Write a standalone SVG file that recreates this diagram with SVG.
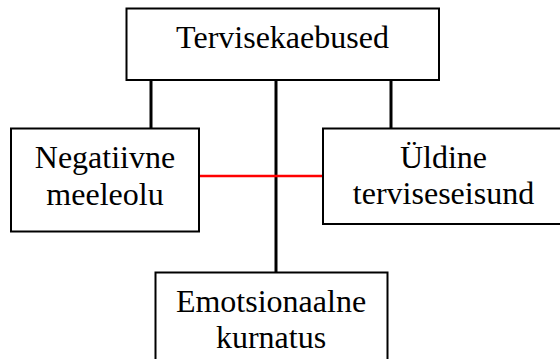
<svg xmlns="http://www.w3.org/2000/svg" width="560" height="359" viewBox="0 0 560 359">
<style>
.box{fill:#fff;stroke:#000;stroke-width:2}
.t{font-family:"Liberation Serif","Times New Roman",serif;font-size:32px;fill:#000;text-anchor:middle}
.c{stroke:#000;stroke-width:3;fill:none}
.r{stroke:#f00;stroke-width:2.5;fill:none}
</style>
<rect width="560" height="359" fill="#fff"/>
<g id="connectors">
<line class="c" x1="151" y1="80" x2="151" y2="128"/>
<line class="c" x1="276" y1="80" x2="276" y2="272"/>
<line class="c" x1="391" y1="80" x2="391" y2="128"/>
<line class="r" x1="199" y1="176" x2="323" y2="176"/>
</g>
<g id="tervisekaebused">
<rect class="box" x="126.5" y="8.5" width="312.5" height="71.5"/>
<text class="t" x="282.5" y="47.7">Tervisekaebused</text>
</g>
<g id="negatiivne">
<rect class="box" x="11" y="128.5" width="188" height="103"/>
<text class="t" x="105" y="167.7">Negatiivne</text>
<text class="t" x="105" y="205">meeleolu</text>
</g>
<g id="uldine">
<rect class="box" x="323" y="128.5" width="240" height="95.5"/>
<text class="t" x="443.5" y="167.7">Üldine</text>
<text class="t" x="443.5" y="204">terviseseisund</text>
</g>
<g id="emotsionaalne">
<rect class="box" x="155.5" y="272.5" width="232" height="100"/>
<text class="t" x="271" y="312">Emotsionaalne</text>
<text class="t" x="271" y="348">kurnatus</text>
</g>
</svg>
